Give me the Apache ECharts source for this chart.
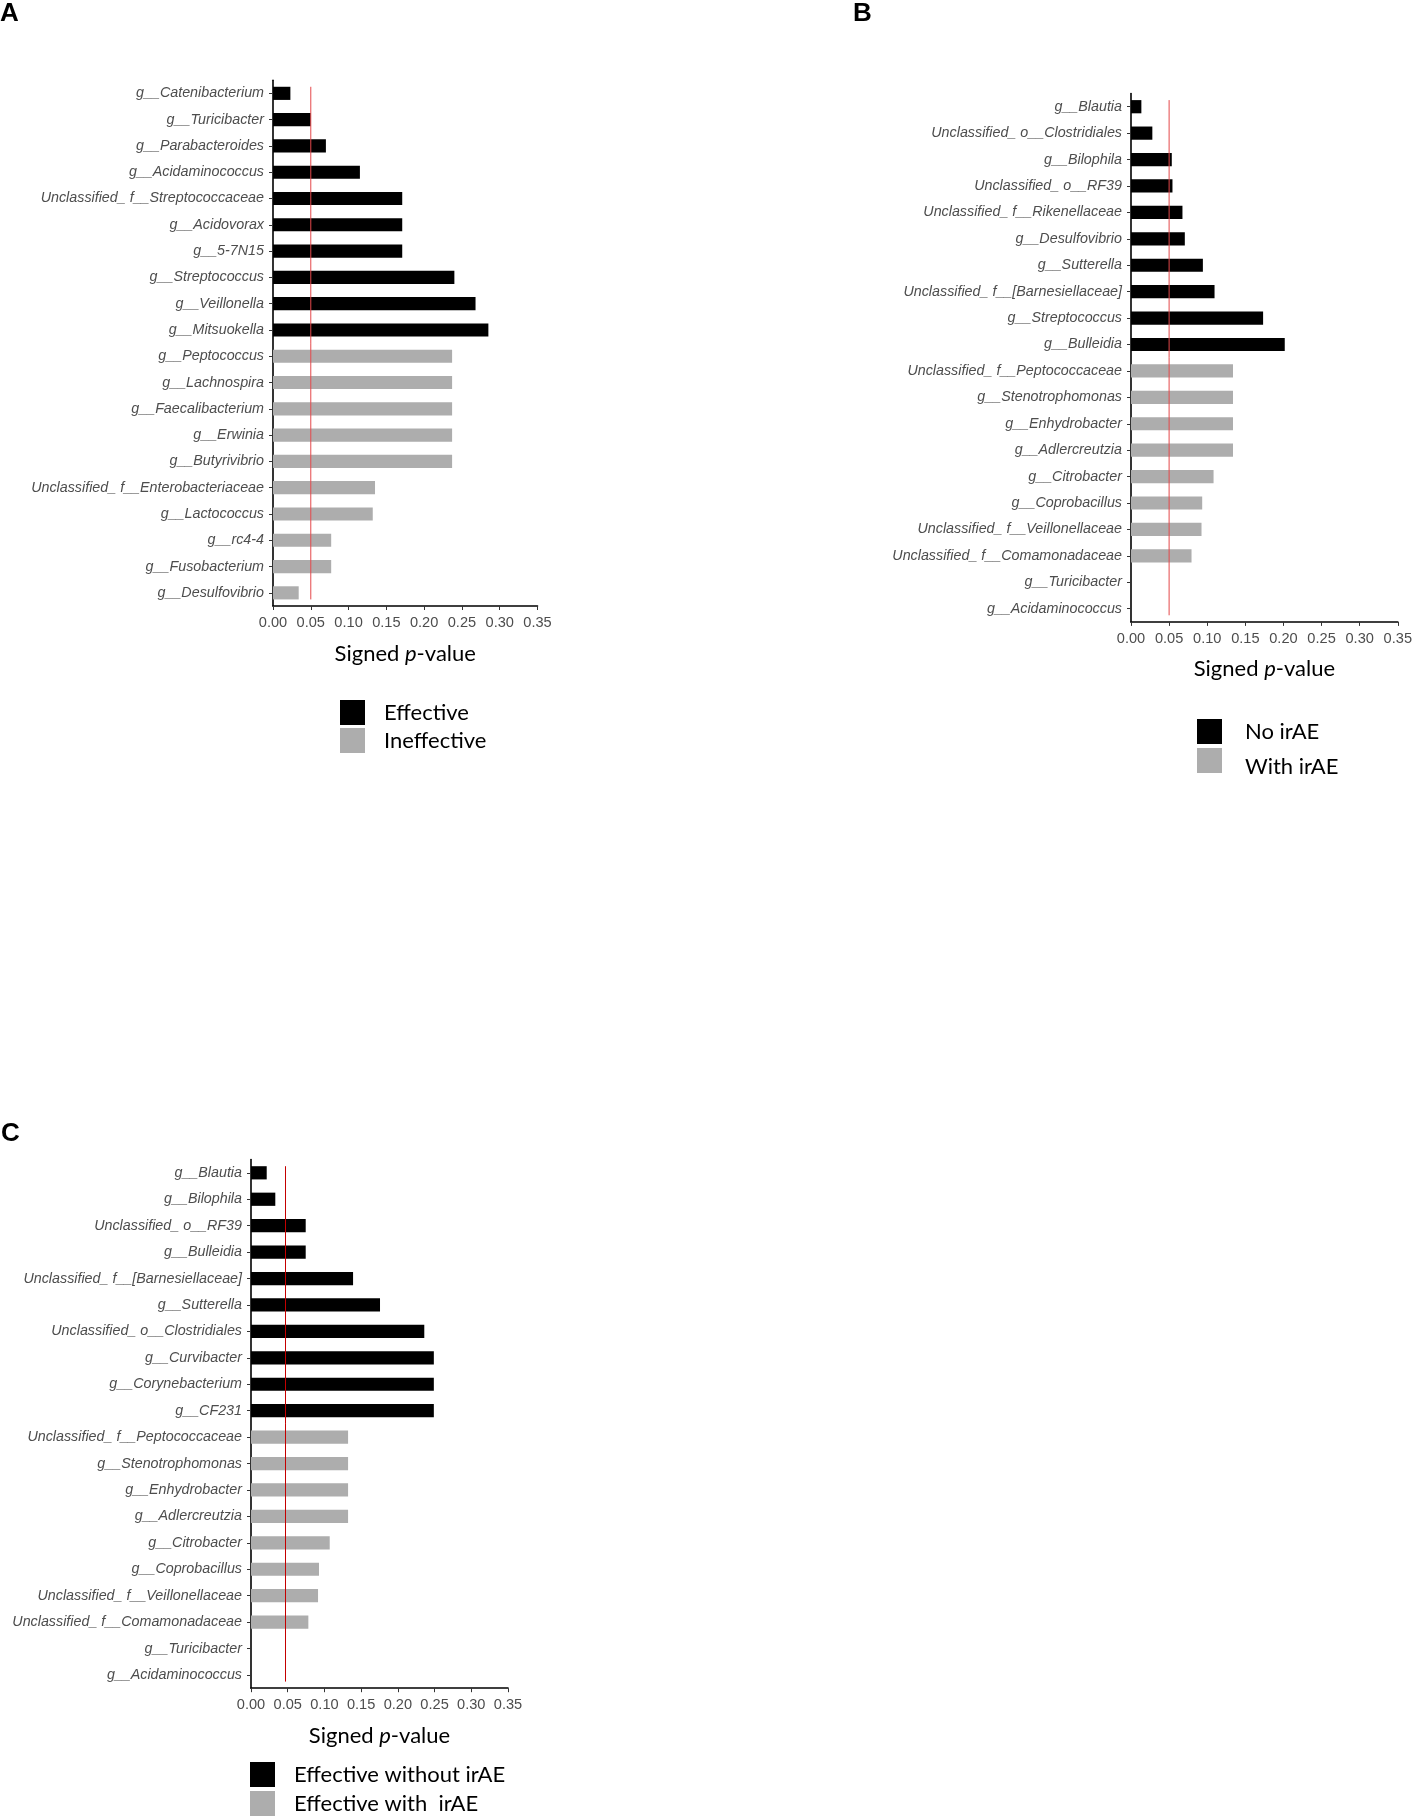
<!DOCTYPE html>
<html>
<head>
<meta charset="utf-8">
<script src="https://cdn.jsdelivr.net/npm/echarts@6/dist/echarts.min.js"></script>
<style>
html,body{margin:0;padding:0;background:#ffffff;}
#chart{width:1415px;height:1817px;}
</style>
</head>
<body>
<div id="chart"></div>
<script>
// ---------- DATA ----------
const xTickValues = [0, 0.05, 0.10, 0.15, 0.20, 0.25, 0.30, 0.35];

// Panel A
const aEffectiveLabels = ['g__Catenibacterium','g__Turicibacter','g__Parabacteroides','g__Acidaminococcus','Unclassified_ f__Streptococcaceae','g__Acidovorax','g__5-7N15','g__Streptococcus','g__Veillonella','g__Mitsuokella'];
const aEffectiveValues = [0.023, 0.050, 0.070, 0.115, 0.171, 0.171, 0.171, 0.240, 0.268, 0.285];
const aIneffectiveLabels = ['g__Peptococcus','g__Lachnospira','g__Faecalibacterium','g__Erwinia','g__Butyrivibrio','Unclassified_ f__Enterobacteriaceae','g__Lactococcus','g__rc4-4','g__Fusobacterium','g__Desulfovibrio'];
const aIneffectiveValues = [0.237, 0.237, 0.237, 0.237, 0.237, 0.135, 0.132, 0.077, 0.077, 0.034];
const aSeriesNames = ['Effective', 'Ineffective'];
const aThreshold = 0.05;

// Panel B
const bNoIrAELabels = ['g__Blautia','Unclassified_ o__Clostridiales','g__Bilophila','Unclassified_ o__RF39','Unclassified_ f__Rikenellaceae','g__Desulfovibrio','g__Sutterella','Unclassified_ f__[Barnesiellaceae]','g__Streptococcus','g__Bulleidia'];
const bNoIrAEValues = [0.0136, 0.028, 0.0535, 0.0544, 0.0675, 0.0706, 0.0943, 0.1096, 0.1733, 0.2017];
const bWithIrAELabels = ['Unclassified_ f__Peptococcaceae','g__Stenotrophomonas','g__Enhydrobacter','g__Adlercreutzia','g__Citrobacter','g__Coprobacillus','Unclassified_ f__Veillonellaceae','Unclassified_ f__Comamonadaceae','g__Turicibacter','g__Acidaminococcus'];
const bWithIrAEValues = [0.1338, 0.1338, 0.1338, 0.1338, 0.1083, 0.0934, 0.0925, 0.0794, 0, 0];
const bSeriesNames = ['No irAE', 'With irAE'];
const bThreshold = 0.05;

// Panel C
const cWithoutIrAELabels = ['g__Blautia','g__Bilophila','Unclassified_ o__RF39','g__Bulleidia','Unclassified_ f__[Barnesiellaceae]','g__Sutterella','Unclassified_ o__Clostridiales','g__Curvibacter','g__Corynebacterium','g__CF231'];
const cWithoutIrAEValues = [0.0214, 0.0331, 0.0745, 0.0745, 0.139, 0.1757, 0.236, 0.249, 0.249, 0.249];
const cWithIrAELabels = ['Unclassified_ f__Peptococcaceae','g__Stenotrophomonas','g__Enhydrobacter','g__Adlercreutzia','g__Citrobacter','g__Coprobacillus','Unclassified_ f__Veillonellaceae','Unclassified_ f__Comamonadaceae','g__Turicibacter','g__Acidaminococcus'];
const cWithIrAEValues = [0.1322, 0.1322, 0.1322, 0.1322, 0.1072, 0.0926, 0.0913, 0.0781, 0, 0];
const cSeriesNames = ['Effective without irAE', 'Effective with  irAE'];
const cThreshold = 0.047;

const panelLetters = ['A', 'B', 'C'];

// ---------- LAYOUT / STYLE ----------
const panels = [
  {firstL: aEffectiveLabels, firstV: aEffectiveValues, secondL: aIneffectiveLabels, secondV: aIneffectiveValues, names: aSeriesNames, thr: aThreshold,
   grid: {left: 273, top: 80.2, width: 264.5, height: 525.8}, nameGap: 37, redColor: '#e5484a',
   legend: {left: 340, top: 700, itemGap: 3, pad: 14, shift: [0, 0]}, letter: {left: 0, top: 1}},
  {firstL: bNoIrAELabels, firstV: bNoIrAEValues, secondL: bWithIrAELabels, secondV: bWithIrAEValues, names: bSeriesNames, thr: bThreshold,
   grid: {left: 1131, top: 93.5, width: 267, height: 528.4}, nameGap: 36.5, redColor: '#e5484a',
   legend: {left: 1197, top: 719, itemGap: 4, pad: 18, shift: [0, 12]}, letter: {left: 853, top: 1}},
  {firstL: cWithoutIrAELabels, firstV: cWithoutIrAEValues, secondL: cWithIrAELabels, secondV: cWithIrAEValues, names: cSeriesNames, thr: cThreshold,
   grid: {left: 251, top: 1159.6, width: 257, height: 528.6}, nameGap: 36.5, redColor: '#c40000',
   legend: {left: 250, top: 1762, itemGap: 4, pad: 14, shift: [0, 0]}, letter: {left: 1, top: 1121}}
];

const barFraction = 0.5;
const tickFont = 'Liberation Sans, Arial, sans-serif';
const titleFont = 'Lato, Carlito, sans-serif';

const option = {
  animation: false,
  backgroundColor: '#ffffff',
  title: [], grid: [], xAxis: [], yAxis: [], series: [], legend: []
};

panels.forEach((p, i) => {
  const cats = p.firstL.concat(p.secondL);
  const n = cats.length;
  const nFirst = p.firstL.length;
  option.title.push({
    text: panelLetters[i], left: p.letter.left, top: p.letter.top, padding: 0,
    textStyle: {fontFamily: tickFont, fontWeight: 'bold', fontSize: 26, color: '#000'}
  });
  option.grid.push(Object.assign({containLabel: false}, p.grid));
  option.xAxis.push({
    gridIndex: i, type: 'value',
    min: xTickValues[0], max: xTickValues[xTickValues.length - 1],
    interval: xTickValues[1] - xTickValues[0],
    axisLine: {show: true, onZero: false, lineStyle: {color: '#000', width: 1.6}},
    axisTick: {show: true, length: 4, lineStyle: {color: '#333', width: 1}},
    axisLabel: {margin: 9.5, fontSize: 14.6, fontFamily: tickFont, color: '#4d4d4d',
      formatter: v => v.toFixed(2)},
    splitLine: {show: false},
    name: '{n|Signed }{i|p}{n|-value}',
    nameLocation: 'middle', nameGap: p.nameGap,
    nameTextStyle: {
      rich: {
        n: {fontFamily: titleFont, fontSize: 22, color: '#000'},
        i: {fontFamily: titleFont, fontSize: 22, fontStyle: 'italic', color: '#000'}
      }
    }
  });
  option.yAxis.push({
    gridIndex: i, type: 'category', inverse: true, data: cats,
    axisLine: {show: true, onZero: false, lineStyle: {color: '#000', width: 1.6}},
    axisTick: {show: true, alignWithLabel: true, length: 4, lineStyle: {color: '#333', width: 1}},
    axisLabel: {margin: 9, fontSize: 14.3, fontFamily: tickFont, fontStyle: 'italic', color: '#4d4d4d', interval: 0},
    splitLine: {show: false}
  });
  option.yAxis.push({
    gridIndex: i, type: 'value', min: 0, max: n, inverse: true, show: false
  });
  option.series.push({
    type: 'bar', name: p.names[0], xAxisIndex: i, yAxisIndex: 2 * i,
    data: cats.map((c, k) => k < nFirst ? p.firstV[k] : null),
    barWidth: (barFraction * 100) + '%', barGap: '-100%',
    itemStyle: {color: '#000000'}
  });
  option.series.push({
    type: 'bar', name: p.names[1], xAxisIndex: i, yAxisIndex: 2 * i,
    data: cats.map((c, k) => k >= nFirst ? p.secondV[k - nFirst] : null),
    barWidth: (barFraction * 100) + '%', barGap: '-100%',
    itemStyle: {color: '#adadad'}
  });
  const inset = (1 - barFraction) / 2;
  option.series.push({
    type: 'line', name: 'threshold' + i, xAxisIndex: i, yAxisIndex: 2 * i + 1,
    data: [[p.thr, inset], [p.thr, n - inset]],
    symbol: 'none', silent: true, z: 5,
    lineStyle: {color: p.redColor, width: 1}
  });
  const shiftRich = {};
  p.names.forEach((nm, k) => {
    shiftRich['s' + k] = {fontFamily: titleFont, fontSize: 22, color: '#000', padding: [p.legend.shift[k], 0, 0, 0]};
  });
  option.legend.push({
    data: p.names,
    formatter: nm => '{s' + p.names.indexOf(nm) + '|' + nm + '}',
    orient: 'vertical', left: p.legend.left, top: p.legend.top,
    itemWidth: 25, itemHeight: 25, itemGap: p.legend.itemGap, icon: 'rect',
    selectedMode: false, padding: 0,
    textStyle: {fontFamily: titleFont, fontSize: 22, color: '#000', padding: [0, 0, 0, p.legend.pad], rich: shiftRich}
  });
});

const chart = echarts.init(document.getElementById('chart'), null, {renderer: 'canvas'});
chart.setOption(option);
</script>
</body>
</html>
